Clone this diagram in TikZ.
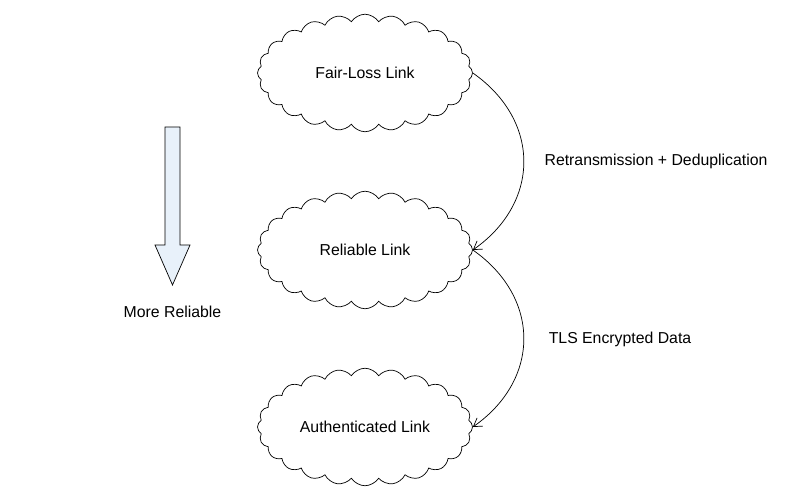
\documentclass[tikz,border=0pt]{standalone}
\usepackage{fontspec}
\setmainfont{Liberation Sans}
\usetikzlibrary{shapes.symbols,arrows.meta}
\begin{document}
\begin{tikzpicture}[
    link/.style={cloud, draw, cloud puffs=24, cloud puff arc=115, aspect=1.9,
                 minimum width=4.3cm, minimum height=2.35cm, inner sep=0pt, font=\small},
    flow/.style={-{Straight Barb[length=1.6mm,width=2mm]}, thin}]
        \useasboundingbox (0,0) rectangle (16,10);
        
        \node[link] (F) at (7.3, 8.54) {Fair-Loss Link};
        \node[link] (R) at (7.3, 5.0) {Reliable Link};
        \node[link] (A) at (7.3, 1.46) {Authenticated Link};
        
        \draw[flow] (F.east) to[out=-35, in=35, looseness=1.2] (R.east);
        \draw[flow] (R.east) to[out=-35, in=35, looseness=1.2] (A.east);
        
        \node[font=\small] (t1) at (13.12, 6.78) {Retransmission + Deduplication};
        \node[font=\small] (t2) at (12.4, 3.22) {TLS Encrypted Data};
        
        \draw[fill={rgb,255:red,232;green,241;blue,250}, thin]
            (3.3,7.46) -- (3.6,7.46) -- (3.6,5.1) -- (3.8,5.1)
            -- (3.45,4.3) -- (3.1,5.1) -- (3.3,5.1) -- cycle;
        \node[font=\small] (m) at (3.45, 3.76) {More Reliable};
\end{tikzpicture}
\end{document}
